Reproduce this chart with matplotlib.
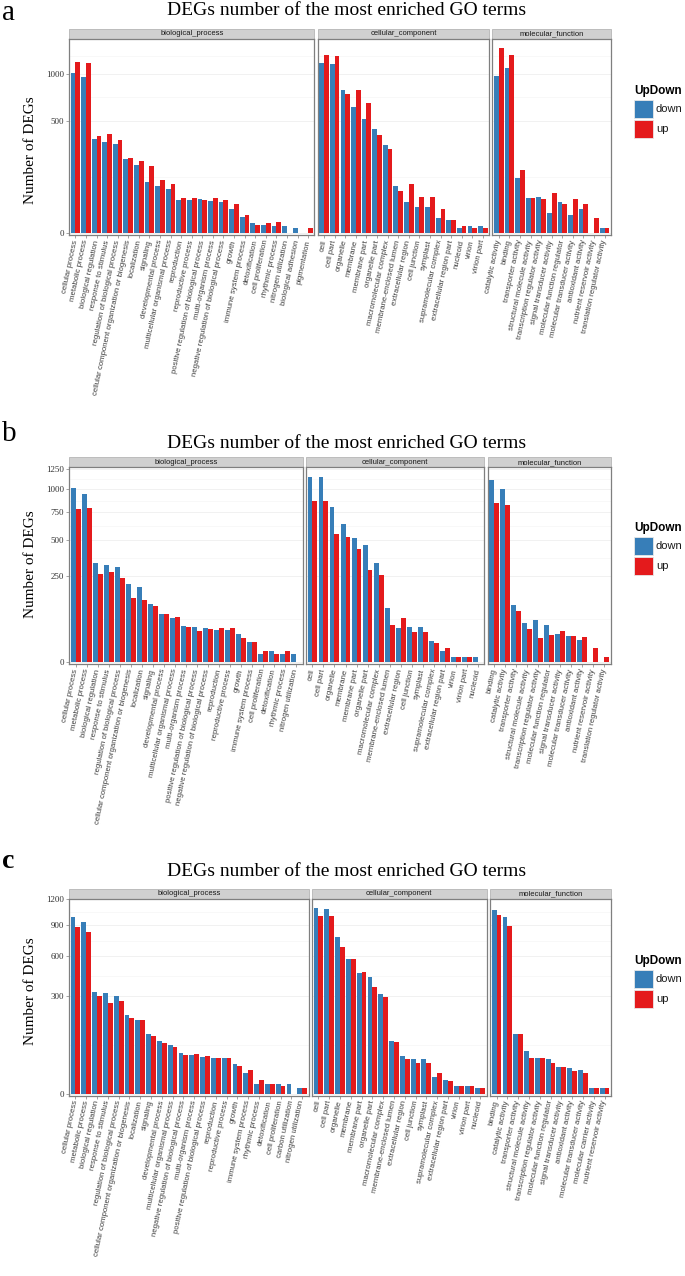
import numpy as np
import matplotlib
matplotlib.use("Agg")
import matplotlib.pyplot as plt
from matplotlib.patches import Rectangle
from matplotlib.gridspec import GridSpec

W, H = 685, 1276
SERIF = "Liberation Serif"
SANS = "Liberation Sans"

title = "DEGs number of the most enriched GO terms"
facet_names = ["biological_process", "cellular_component", "molecular_function"]
series = ["down", "up"]
series_colors = ["#377EB8", "#E41A1C"]

# ---------------- panel a ----------------
a_bp_terms = ["cellular process", "metabolic process", "biological regulation", "response to stimulus",
              "regulation of biological process", "cellular component organization or biogenesis",
              "localization", "signaling", "developmental process", "multicellular organismal process",
              "reproduction", "reproductive process", "positive regulation of biological process",
              "multi-organism process", "negative regulation of biological process", "growth",
              "immune system process", "detoxification", "cell proliferation", "rhythmic process",
              "nitrogen utilization", "biological adhesion", "pigmentation"]
a_bp_down = [1020, 962, 349, 330, 313, 218, 185, 104, 90, 77, 44, 44, 47, 42, 40, 23, 10, 4, 3, 2, 2, 1, 0]
a_bp_up = [1156, 1142, 374, 390, 347, 226, 205, 179, 112, 97, 50, 50, 44, 48, 45, 33, 13, 3, 4, 5, 0, 0, 1]

a_cc_terms = ["cell", "cell part", "organelle", "membrane", "membrane part", "organelle part",
              "macromolecular complex", "membrane-enclosed lumen", "extracellular region", "cell junction",
              "symplast", "supramolecular complex", "extracellular region part", "nucleoid", "virion",
              "virion part"]
a_cc_down = [1142, 1133, 808, 631, 517, 433, 311, 88, 40, 28, 28, 9, 7, 1, 2, 2]
a_cc_up = [1252, 1243, 767, 812, 671, 380, 283, 71, 95, 52, 52, 24, 7, 2, 1, 1]

a_mf_terms = ["catalytic activity", "binding", "transporter activity", "structural molecule activity",
              "transcription regulator activity", "signal transducer activity", "molecular function regulator",
              "molecular transducer activity", "antioxidant activity", "nutrient reservoir activity",
              "translation regulator activity"]
a_mf_down = [982, 1072, 122, 48, 52, 16, 39, 14, 23, 0, 1]
a_mf_up = [1358, 1248, 158, 48, 46, 63, 33, 46, 34, 9, 1]
a_yticks = [0, 500, 1000, 1500]

# ---------------- panel b ----------------
b_bp_terms = ["cellular process", "metabolic process", "biological regulation", "response to stimulus",
              "regulation of biological process", "cellular component organization or biogenesis",
              "localization", "signaling", "developmental process", "multicellular organismal process",
              "multi-organism process", "positive regulation of biological process",
              "negative regulation of biological process", "reproduction", "reproductive process", "growth",
              "immune system process", "cell proliferation", "detoxification", "rhythmic process",
              "nitrogen utilization"]
b_bp_down = [1016, 947, 328, 317, 302, 203, 188, 112, 79, 64, 44, 42, 39, 34, 34, 27, 13, 2, 4, 2, 2]
b_bp_up = [789, 796, 261, 269, 236, 137, 130, 104, 77, 68, 41, 32, 36, 39, 39, 19, 14, 4, 2, 4, 0]

b_cc_terms = ["cell", "cell part", "organelle", "membrane", "membrane part", "organelle part",
              "macromolecular complex", "membrane-enclosed lumen", "extracellular region", "cell junction",
              "symplast", "supramolecular complex", "extracellular region part", "virion", "virion part",
              "nucleoid"]
b_cc_down = [1152, 1144, 806, 637, 519, 458, 330, 99, 40, 42, 42, 15, 4, 1, 1, 1]
b_cc_up = [873, 870, 548, 522, 432, 283, 255, 47, 66, 31, 31, 12, 7, 1, 1, 0]

b_mf_terms = ["binding", "catalytic activity", "transporter activity", "structural molecule activity",
              "transcription regulator activity", "molecular function regulator", "signal transducer activity",
              "molecular transducer activity", "antioxidant activity", "nutrient reservoir activity",
              "translation regulator activity"]
b_mf_down = [1111, 1004, 110, 52, 59, 46, 26, 23, 17, 0, 0]
b_mf_up = [849, 824, 87, 36, 19, 24, 33, 23, 21, 7, 1]
b_yticks = [0, 250, 500, 750, 1000, 1250, 1500]

# ---------------- panel c ----------------
c_bp_terms = ["cellular process", "metabolic process", "biological regulation", "response to stimulus",
              "regulation of biological process", "cellular component organization or biogenesis",
              "localization", "signaling", "developmental process", "multicellular organismal process",
              "negative regulation of biological process", "multi-organism process",
              "positive regulation of biological process", "reproduction", "reproductive process", "growth",
              "immune system process", "rhythmic process", "detoxification", "cell proliferation",
              "carbon utilization", "nitrogen utilization"]
c_bp_down = [984, 932, 327, 319, 300, 194, 172, 114, 87, 74, 51, 47, 42, 41, 41, 28, 13, 3, 3, 3, 3, 1]
c_bp_up = [875, 830, 300, 260, 272, 181, 173, 106, 80, 68, 46, 49, 44, 41, 41, 24, 18, 6, 3, 2, 0, 1]

c_cc_terms = b_cc_terms
c_cc_down = [1095, 1084, 773, 573, 464, 432, 313, 87, 45, 38, 38, 9, 6, 2, 2, 1]
c_cc_up = [1003, 1003, 677, 573, 472, 358, 298, 85, 38, 29, 29, 13, 5, 2, 2, 1]

c_mf_terms = ["binding", "catalytic activity", "transporter activity", "structural molecule activity",
              "transcription regulator activity", "molecular function regulator", "signal transducer activity",
              "antioxidant activity", "molecular transducer activity", "molecular carrier activity",
              "nutrient reservoir activity"]
c_mf_down = [1068, 992, 112, 57, 41, 37, 23, 20, 18, 1, 1]
c_mf_up = [1007, 893, 112, 41, 39, 30, 22, 16, 14, 1, 1]
c_yticks = [0, 300, 600, 900, 1200, 1500]


def fwd(v):
    return np.sign(v) * np.sqrt(np.abs(v))


def inv(v):
    return np.sign(v) * v ** 2


def px_x(x):
    return x / W


def px_y(y):
    return 1 - y / H


def draw_panel(fig, facets, yticks, letter, layout, letter_bold=False):
    top_px, bottom_px = layout["top"], layout["bottom"]
    left_px, right_px = 69, 611
    gap = 3.3
    ratios = [len(f[0]) + 0.2 for f in facets]
    mean_w = (right_px - left_px - 2 * gap) / 3
    gs = GridSpec(1, 3, figure=fig, width_ratios=ratios, left=px_x(left_px), right=px_x(right_px),
                  top=px_y(top_px), bottom=px_y(bottom_px), wspace=gap / mean_w)

    vmax = max(max(max(f[1]), max(f[2])) for f in facets)
    ytop = (np.sqrt(vmax) * 1.05) ** 2
    s = np.sqrt(yticks)
    minor = ((s[:-1] + s[1:]) / 2) ** 2
    strip_frac = 10.0 / (bottom_px - top_px)

    for i, (terms, down, up) in enumerate(facets):
        ax = fig.add_subplot(gs[0, i])
        x = np.arange(len(terms))
        ax.bar(x - 0.225, down, width=0.45, color=series_colors[0], linewidth=0, zorder=2)
        ax.bar(x + 0.225, up, width=0.45, color=series_colors[1], linewidth=0, zorder=2)
        ax.set_yscale("function", functions=(fwd, inv))
        ax.set_yticks(yticks)
        ax.set_yticks(minor, minor=True)
        ax.set_ylim(-0.15, ytop)
        ax.set_xlim(-0.6, len(terms) - 0.4)
        ax.grid(True, which="major", axis="y", color="#EBEBEB", lw=0.5, zorder=0)
        ax.grid(True, which="minor", axis="y", color="#F5F5F5", lw=0.5, zorder=0)
        ax.set_axisbelow(True)
        for sp in ax.spines.values():
            sp.set_color("#7F7F7F")
            sp.set_linewidth(0.9)
        ax.tick_params(which="minor", left=False)
        ax.tick_params(axis="both", which="major", length=2, width=0.5, color="#7F7F7F", pad=1.5)
        if i == 0:
            ax.set_yticklabels([str(t) for t in yticks], fontsize=6.5, family=SERIF, color="#333333")
        else:
            ax.tick_params(axis="y", left=False, labelleft=False)
        ax.set_xticks(x)
        ax.set_xticklabels(terms, rotation=78, ha="right", va="center", rotation_mode="anchor",
                           fontsize=5.6, family=SANS, color="#404040")
        ax.add_patch(Rectangle((0, 1), 1, strip_frac, transform=ax.transAxes, clip_on=False,
                               facecolor="#D0D0D0", edgecolor="#B5B5B5", lw=0.6))
        ax.text(0.5, 1 + strip_frac / 2, facet_names[i], transform=ax.transAxes, ha="center",
                va="center", fontsize=5.5, family=SANS, color="#1A1A1A")

    fig.text(px_x(2), px_y(layout["letter"]), letter, fontsize=21 if not letter_bold else 20,
             family=SERIF, fontweight="bold" if letter_bold else "normal", ha="left", va="baseline")
    fig.text(px_x(347), px_y(layout["title"]), title, fontsize=14, family=SERIF, ha="center", va="baseline")
    fig.text(px_x(30), px_y(layout["ylab"]), "Number of DEGs", fontsize=11, family=SERIF,
             rotation=90, ha="center", va="center")

    ly = layout["legend"]
    fig.text(px_x(634), px_y(ly), "UpDown", fontsize=8.5, family=SANS, fontweight="bold",
             ha="left", va="center")
    for k, (name, col) in enumerate(zip(series, series_colors)):
        ktop = ly + 9 + 20 * k
        fig.add_artist(Rectangle((px_x(634), px_y(ktop + 18)), 19 / W, 18 / H, transform=fig.transFigure,
                                 facecolor=col, edgecolor="#E8E8E8", lw=0.6))
        fig.text(px_x(656), px_y(ktop + 9), name, fontsize=8, family=SANS, ha="left", va="center",
                 color="#1A1A1A")


fig = plt.figure(figsize=(W / 100, H / 100), dpi=100)

draw_panel(fig, [(a_bp_terms, a_bp_down, a_bp_up), (a_cc_terms, a_cc_down, a_cc_up),
                 (a_mf_terms, a_mf_down, a_mf_up)], a_yticks, "a",
           dict(top=38.5, bottom=235.3, letter=20.5, title=15, ylab=150, legend=91))
draw_panel(fig, [(b_bp_terms, b_bp_down, b_bp_up), (b_cc_terms, b_cc_down, b_cc_up),
                 (b_mf_terms, b_mf_down, b_mf_up)], b_yticks, "b",
           dict(top=467.3, bottom=664.3, letter=441, title=447.5, ylab=564, legend=528))
draw_panel(fig, [(c_bp_terms, c_bp_down, c_bp_up), (c_cc_terms, c_cc_down, c_cc_up),
                 (c_mf_terms, c_mf_down, c_mf_up)], c_yticks, "c",
           dict(top=898.5, bottom=1095.7, letter=868, title=876.5, ylab=991, legend=961), letter_bold=True)

fig.savefig("out.png", dpi=100)
